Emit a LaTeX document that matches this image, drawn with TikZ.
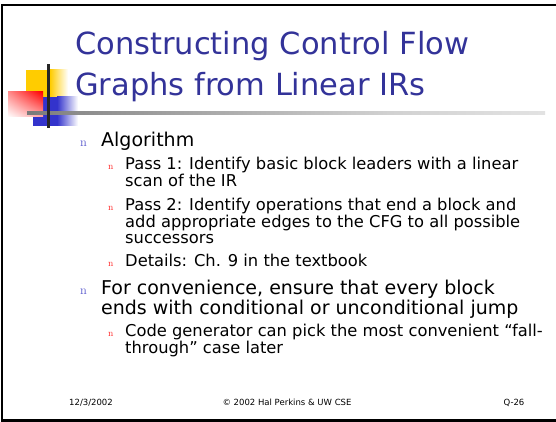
\documentclass[tikz,border=0pt]{standalone}
\usepackage{fontspec}
\usetikzlibrary{shadings}
\newfontfamily\dv{DejaVu Sans}
\definecolor{titleblue}{HTML}{333399}
\definecolor{bulblue}{HTML}{5555CC}
\definecolor{bulred}{HTML}{FF2222}
\definecolor{logoyellow}{HTML}{FFCC00}
\definecolor{logoblue}{HTML}{3333CC}
\definecolor{logored}{HTML}{FF0000}
\pgfdeclarehorizontalshading{ruleshade}{100bp}{color(0bp)=(black!82); color(8bp)=(black!78); color(30bp)=(black!45); color(60bp)=(black!18); color(100bp)=(white)}
\tikzset{
  titletext/.style={anchor=base west, inner sep=0, text=titleblue, font=\fontsize{30.5}{32}\selectfont\dv},
  lone/.style={anchor=base west, inner sep=0, font=\fontsize{19}{20}\selectfont\dv},
  ltwo/.style={anchor=base west, inner sep=0, font=\fontsize{16.3}{17}\selectfont\dv},
  bone/.style={anchor=base west, inner sep=0, text=bulblue, font=\fontsize{12.5}{13}\selectfont},
  btwo/.style={anchor=base west, inner sep=0, text=bulred, font=\fontsize{9.5}{10}\selectfont},
  foot/.style={anchor=base, inner sep=0, font=\fontsize{8.5}{9}\selectfont\dv},
}
\begin{document}
\begin{tikzpicture}[x=1pt, y=-1pt]
\useasboundingbox (0,0) rectangle (556,422);
\clip (0,0) rectangle (556,422);
\fill[white] (0,0) rectangle (556,422);
% frame
\draw[line width=2.2pt] (560,5) -- (2,5) -- (2,420.5) -- (560,420.5);
% logo
\fill[logoyellow] (26,70) rectangle (50,97);
\shade[left color=logoyellow, right color=white] (50,70) rectangle (68,97);
\fill[logoblue] (33,97) rectangle (57,126);
\shade[left color=logoblue, right color=white] (57,97) rectangle (78,126);
\shade[upper right=logored, upper left=logored!45, lower left=white, lower right=logored!35] (8,92) rectangle (43,117);
\shade[shading=ruleshade] (27,111.5) rectangle (545,114.5);
\fill[black!85] (47,64) rectangle (49.5,128);
% title
\node[titletext] (t1) at (75,55) {Constructing Control Flow};
\node[titletext] (t2) at (75,96) {Graphs from Linear IRs};
% bullets level 1
\node[bone] (b1) at (80,147) {n};
\node[lone] (a1) at (101,147) {Algorithm};
\node[btwo] (b2) at (108,169) {n};
\node[ltwo] (p1a) at (125,169) {Pass 1: Identify basic block leaders with a linear};
\node[ltwo] (p1b) at (125,186) {scan of the IR};
\node[btwo] (b3) at (108,210.5) {n};
\node[ltwo] (p2a) at (125,210.5) {Pass 2: Identify operations that end a block and};
\node[ltwo] (p2b) at (125,227) {add appropriate edges to the CFG to all possible};
\node[ltwo] (p2c) at (125,243.5) {successors};
\node[btwo] (b4) at (108,266.7) {n};
\node[ltwo] (d1) at (125,266.7) {Details: Ch. 9 in the textbook};
\node[bone] (b5) at (80,294) {n};
\node[lone] (f1) at (101,294) {For convenience, ensure that every block};
\node[lone] (f2) at (101,314) {ends with conditional or unconditional jump};
\node[btwo] (b6) at (108,336.7) {n};
\node[ltwo] (c1) at (125,336.7) {Code generator can pick the most convenient “fall-};
\node[ltwo] (c2) at (125,353.3) {through” case later};
% footer
\node[foot] (fd) at (91,405) {12/3/2002};
\node[foot] (fc) at (287,405) {© 2002 Hal Perkins \& UW CSE};
\node[foot] (fn) at (514,405) {Q-26};
\end{tikzpicture}
\end{document}
